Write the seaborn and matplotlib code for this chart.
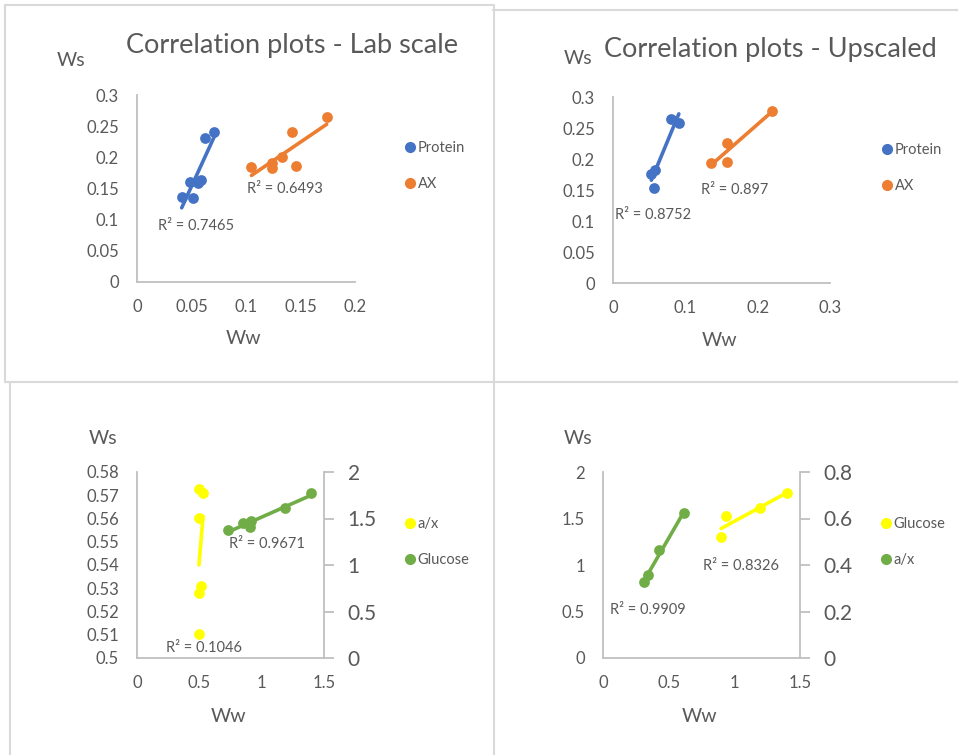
import matplotlib
matplotlib.use("Agg")
import matplotlib.pyplot as plt
from matplotlib.lines import Line2D
from matplotlib.ticker import FixedLocator, FuncFormatter
import seaborn as sns

sns.set_theme(style="white")
plt.rcParams['font.family'] = ['Lato', 'DejaVu Sans']

# ---- Lab scale: Protein and AX ----
lab_protein_ww = [0.041, 0.051, 0.049, 0.056, 0.059, 0.062, 0.071]
lab_protein_ws = [0.136, 0.134, 0.160, 0.159, 0.163, 0.231, 0.240]
lab_ax_ww = [0.105, 0.124, 0.124, 0.133, 0.142, 0.146, 0.174]
lab_ax_ws = [0.184, 0.191, 0.183, 0.201, 0.241, 0.186, 0.264]
lab_r2 = [0.7465, 0.6493]

# ---- Upscaled: Protein and AX ----
up_protein_ww = [0.080, 0.091, 0.058, 0.053, 0.056]
up_protein_ws = [0.2645, 0.258, 0.182, 0.176, 0.154]
up_ax_ww = [0.135, 0.158, 0.157, 0.2195]
up_ax_ws = [0.193, 0.226, 0.195, 0.277]
up_r2 = [0.8752, 0.897]

# ---- Lab scale: a/x (left axis) and Glucose (right axis) ----
lab_ratio_ww = [0.497, 0.530, 0.497, 0.512, 0.500, 0.497]
lab_ratio_ws = [0.5726, 0.5708, 0.5602, 0.5308, 0.5281, 0.5102]
lab_glucose_ww = [0.73, 0.85, 0.918, 0.904, 1.19, 1.398]
lab_glucose_ws = [1.376, 1.448, 1.473, 1.405, 1.61, 1.771]
lab_sugar_r2 = [0.1046, 0.9671]

# ---- Upscaled: Glucose (left axis) and a/x (right axis) ----
up_glucose_ww = [0.899, 0.937, 1.196, 1.404]
up_glucose_ws = [1.298, 1.527, 1.61, 1.778]
up_ratio_ww = [0.312, 0.345, 0.427, 0.617]
up_ratio_ws = [0.3256, 0.357, 0.4645, 0.6224]
up_sugar_r2 = [0.9909, 0.8326]

# axis ticks
top_x_ticks_lab = [0, 0.05, 0.1, 0.15, 0.2]
top_x_ticks_up = [0, 0.1, 0.2, 0.3]
top_y_ticks = [0, 0.05, 0.1, 0.15, 0.2, 0.25, 0.3]
bottom_x_ticks = [0, 0.5, 1, 1.5]
lab_ratio_ticks = [0.5, 0.51, 0.52, 0.53, 0.54, 0.55, 0.56, 0.57, 0.58]
lab_glucose_ticks = [0, 0.5, 1, 1.5, 2]
up_glucose_ticks = [0, 0.5, 1, 1.5, 2]
up_ratio_ticks = [0, 0.2, 0.4, 0.6, 0.8]

BLUE = "#4472C4"
ORANGE = "#ED7D31"
YELLOW = "#FFFF00"
GREEN = "#70AD47"
TEXT = "#595959"
AXIS = "#BFBFBF"
FRAME = "#D9D9D9"

W, H = 958, 755
fig = plt.figure(figsize=(W / 100, H / 100), dpi=100)
fig.patch.set_facecolor("white")


def fx(px):
    return px / W


def fy(py):
    return 1 - py / H


def make_axes(left, top, right, bottom):
    return fig.add_axes([fx(left), fy(bottom), (right - left) / W, (bottom - top) / H])


fmt = FuncFormatter(lambda v, p: f"{round(v, 4):g}")


def style(ax, xticks, yticks):
    ax.set_facecolor("none")
    for s in ("top", "right"):
        ax.spines[s].set_visible(False)
    for s in ("left", "bottom"):
        ax.spines[s].set_color(AXIS)
        ax.spines[s].set_linewidth(1.3)
    ax.set_xlim(xticks[0], xticks[-1])
    ax.set_ylim(yticks[0], yticks[-1])
    ax.xaxis.set_major_locator(FixedLocator(xticks))
    ax.yaxis.set_major_locator(FixedLocator(yticks))
    ax.xaxis.set_major_formatter(fmt)
    ax.yaxis.set_major_formatter(fmt)
    ax.tick_params(axis="both", length=0, labelsize=12, labelcolor=TEXT)
    ax.tick_params(axis="x", pad=12)
    ax.tick_params(axis="y", pad=13)
    ax.set_xlabel("")
    ax.set_ylabel("")
    ax.grid(False)


def style_right(ax2, yticks):
    ax2.set_facecolor("none")
    for s in ("top", "left", "bottom"):
        ax2.spines[s].set_visible(False)
    ax2.spines["right"].set_color(AXIS)
    ax2.spines["right"].set_linewidth(1.3)
    ax2.set_ylim(yticks[0], yticks[-1])
    ax2.yaxis.set_major_locator(FixedLocator(yticks))
    ax2.yaxis.set_major_formatter(fmt)
    ax2.tick_params(axis="y", direction="out", length=7, width=1.3, color=AXIS,
                    labelsize=15, labelcolor=TEXT, pad=10)
    ax2.set_ylabel("")
    ax2.grid(False)


def series(ax, x, y, color):
    sns.scatterplot(x=x, y=y, ax=ax, color=color, s=60, linewidth=0, zorder=3)
    sns.regplot(x=x, y=y, ax=ax, scatter=False, ci=None, truncate=True,
                color=color, line_kws={"lw": 2.6, "zorder": 4})


def legend(items, x, y):
    handles = [Line2D([], [], marker="o", linestyle="none", color=c, markersize=7)
               for _, c in items]
    fig.legend(handles, [n for n, _ in items], loc="upper left",
               bbox_to_anchor=(fx(x), fy(y)), bbox_transform=fig.transFigure,
               frameon=False, fontsize=10.5, handlelength=0.8, handletextpad=0.15,
               labelspacing=1.5, borderaxespad=0, borderpad=0, labelcolor=TEXT)


def label(text, x, y, size=10.5):
    fig.text(fx(x), fy(y), text, ha="center", va="center", fontsize=size, color=TEXT)


# ---- Panel: lab scale ----
ax1 = make_axes(137, 95, 355, 282)
series(ax1, lab_protein_ww, lab_protein_ws, BLUE)
series(ax1, lab_ax_ww, lab_ax_ws, ORANGE)
style(ax1, top_x_ticks_lab, top_y_ticks)
label("Correlation plots - Lab scale", 292, 45, 19.5)
label("Ws", 71, 60, 14)
label("Ww", 244, 338, 14)
label(f"R² = {lab_r2[0]}", 196, 226)
label(f"R² = {lab_r2[1]}", 285, 189)
legend([("Protein", BLUE), ("AX", ORANGE)], 404, 141)

# ---- Panel: upscaled ----
ax2 = make_axes(613, 97, 830, 283)
series(ax2, up_protein_ww, up_protein_ws, BLUE)
series(ax2, up_ax_ww, up_ax_ws, ORANGE)
style(ax2, top_x_ticks_up, top_y_ticks)
label("Correlation plots - Upscaled", 770, 50, 19.5)
label("Ws", 578, 58, 14)
label("Ww", 720, 340, 14)
label(f"R² = {up_r2[0]}", 653, 215)
label(f"R² = {up_r2[1]}", 735, 190)
legend([("Protein", BLUE), ("AX", ORANGE)], 881, 143)

# ---- Panel: lab scale sugars ----
ax3 = make_axes(137, 472, 324, 658)
series(ax3, lab_ratio_ww, lab_ratio_ws, YELLOW)
style(ax3, bottom_x_ticks, lab_ratio_ticks)
ax3r = ax3.twinx()
series(ax3r, lab_glucose_ww, lab_glucose_ws, GREEN)
style_right(ax3r, lab_glucose_ticks)
ax3r.set_xlim(bottom_x_ticks[0], bottom_x_ticks[-1])
label("Ws", 103, 438, 14)
label("Ww", 229, 716, 14)
label(f"R² = {lab_sugar_r2[0]}", 204, 648)
label(f"R² = {lab_sugar_r2[1]}", 267, 544)
legend([("a/x", YELLOW), ("Glucose", GREEN)], 404, 517)

# ---- Panel: upscaled sugars ----
ax4 = make_axes(603, 472, 800, 658)
series(ax4, up_glucose_ww, up_glucose_ws, YELLOW)
style(ax4, bottom_x_ticks, up_glucose_ticks)
ax4r = ax4.twinx()
series(ax4r, up_ratio_ww, up_ratio_ws, GREEN)
style_right(ax4r, up_ratio_ticks)
ax4r.set_xlim(bottom_x_ticks[0], bottom_x_ticks[-1])
label("Ws", 578, 438, 14)
label("Ww", 700, 716, 14)
label(f"R² = {up_sugar_r2[0]}", 648, 610)
label(f"R² = {up_sugar_r2[1]}", 741, 566)
legend([("Glucose", YELLOW), ("a/x", GREEN)], 880, 517)

# ---- chart frames ----
frames = [
    ([5, 5], [5, 382]),
    ([5, 493], [5, 5]),
    ([493, 958], [10, 10]),
    ([10, 10], [382, 755]),
    ([493.5, 493.5], [5, 755]),
    ([5, 958], [382, 382]),
]
for xs, ys in frames:
    fig.add_artist(Line2D([fx(v) for v in xs], [fy(v) for v in ys],
                          transform=fig.transFigure, color=FRAME, lw=1.5))

fig.savefig("out.png", dpi=100, facecolor="white")
